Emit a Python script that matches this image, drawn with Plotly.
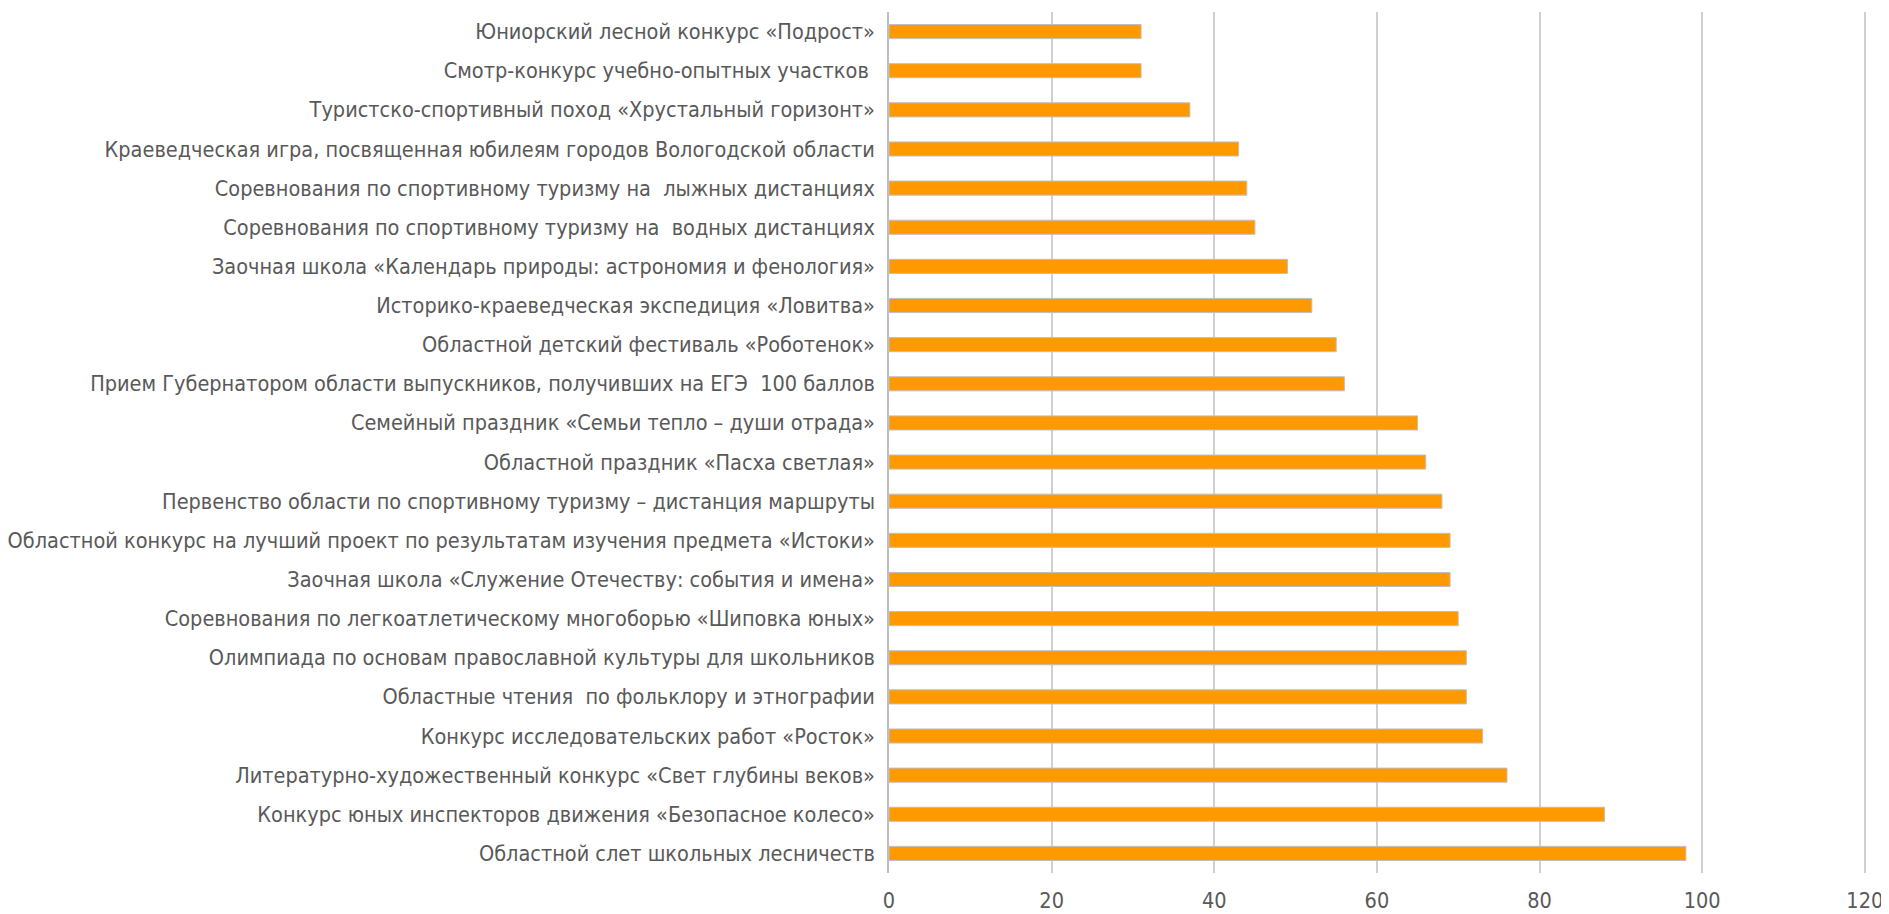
import plotly.graph_objects as go

# Categories listed bottom to top (Plotly draws first category at the bottom)
categories = [
    "Областной слет школьных лесничеств",
    "Конкурс юных инспекторов движения «Безопасное колесо»",
    "Литературно-художественный конкурс «Свет глубины веков»",
    "Конкурс исследовательских работ «Росток»",
    "Областные чтения  по фольклору и этнографии",
    "Олимпиада по основам православной культуры для школьников",
    "Соревнования по легкоатлетическому многоборью «Шиповка юных»",
    "Заочная школа «Служение Отечеству: события и имена»",
    "Областной конкурс на лучший проект по результатам изучения предмета «Истоки»",
    "Первенство области по спортивному туризму – дистанция маршруты",
    "Областной праздник «Пасха светлая»",
    "Семейный праздник «Семьи тепло – души отрада»",
    "Прием Губернатором области выпускников, получивших на ЕГЭ  100 баллов",
    "Областной детский фестиваль «Роботенок»",
    "Историко-краеведческая экспедиция «Ловитва»",
    "Заочная школа «Календарь природы: астрономия и фенология»",
    "Соревнования по спортивному туризму на  водных дистанциях",
    "Соревнования по спортивному туризму на  лыжных дистанциях",
    "Краеведческая игра, посвященная юбилеям городов Вологодской области",
    "Туристско-спортивный поход «Хрустальный горизонт»",
    "Смотр-конкурс учебно-опытных участков\u00a0",
    "Юниорский лесной конкурс «Подрост»",
]
values = [98, 88, 76, 73, 71, 71, 70, 69, 69, 68, 66, 65, 56, 55, 52, 49, 45, 44, 43, 37, 31, 31]
x_ticks = [0, 20, 40, 60, 80, 100, 120]

FONT = "Liberation Sans Narrow, DejaVu Sans Condensed, Liberation Sans, sans-serif"
TEXT = "#595959"

fig = go.Figure(
    go.Bar(
        y=categories,
        x=values,
        orientation="h",
        marker=dict(color="#FF9900", line=dict(color="#BFBFBF", width=1)),
    )
)

fig.update_layout(
    width=1881,
    height=906,
    margin=dict(l=881, r=23, t=4, b=41, autoexpand=False),
    paper_bgcolor="white",
    plot_bgcolor="white",
    bargap=0.64,
    showlegend=False,
    font=dict(family=FONT, size=21, color=TEXT),
)
fig.update_xaxes(
    range=[0, 120.15],
    tickvals=x_ticks,
    ticktext=[str(v) for v in x_ticks],
    showgrid=True,
    gridcolor="#D0D0D0",
    gridwidth=1.5,
    zeroline=False,
    showline=False,
    ticks="",
    ticklabelstandoff=12,
    tickfont=dict(family=FONT, size=21.5, color=TEXT),
)
fig.update_yaxes(
    type="category",
    showgrid=False,
    zeroline=False,
    showline=True,
    linecolor="#BFBFBF",
    linewidth=1.5,
    ticks="",
    ticklabelstandoff=8,
    tickfont=dict(family=FONT, size=21.5, color=TEXT),
)

fig.write_html("out.html")
